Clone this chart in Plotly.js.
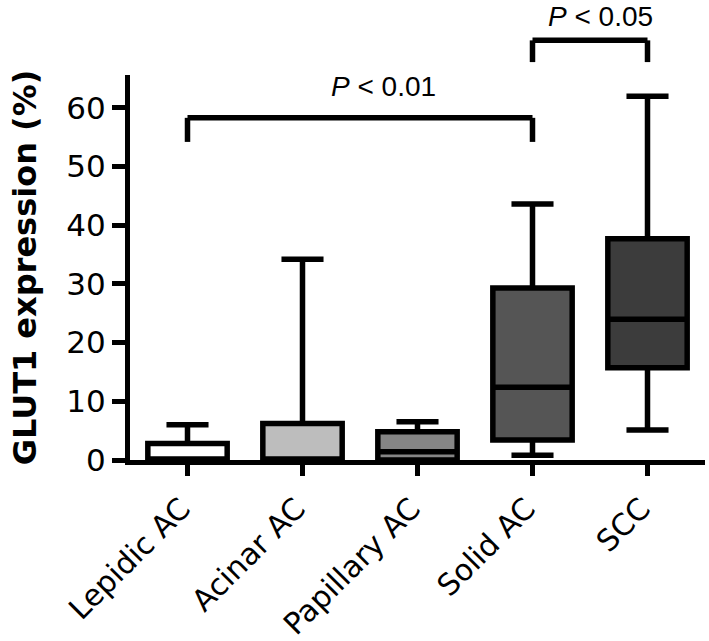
<!DOCTYPE html>
<html>
<head>
<meta charset="utf-8">
<script src="https://cdn.plot.ly/plotly-3.0.1.min.js"></script>
<style>html,body{margin:0;padding:0;background:#fff;}#chart{width:709px;height:641px;}</style>
</head>
<body>
<div id="chart"></div>
<script>
// ---- data ----
const categories = ['Lepidic AC', 'Acinar AC', 'Papillary AC', 'Solid AC', 'SCC'];
const lowerFence = [0, 0, 0, 0.8, 5.1];
const q1 = [0, 0, 0, 3.4, 15.7];
const median = [0, 0, 1.4, 12.4, 24.0];
const q3 = [2.8, 6.2, 4.8, 29.3, 37.7];
const upperFence = [6.0, 34.2, 6.5, 43.6, 62.0];
const fillColors = ['#ffffff', '#bdbdbd', '#858585', '#555555', '#3c3c3c'];

// significance brackets: [from index, to index, bar value, leg end value]
const bracketFrom = [0, 3];
const bracketTo = [3, 4];
const bracketTop = [58.3, 71.5];
const bracketLeg = [54.2, 67.8];
const bracketLabels = ['<i>P</i> < 0.01', '<i>P</i> < 0.05'];

const yRange = [0, 65.6];
const toPaper = v => (v - yRange[0]) / (yRange[1] - yRange[0]);

const traces = categories.map((c, i) => ({
  type: 'box',
  x: [c],
  q1: [q1[i]],
  median: [median[i]],
  q3: [q3[i]],
  lowerfence: [lowerFence[i]],
  upperfence: [upperFence[i]],
  fillcolor: fillColors[i],
  line: {color: '#000000', width: 5.5},
  width: 0.69,
  whiskerwidth: 0.53,
  boxpoints: false,
  hoverinfo: 'skip',
  showlegend: false
}));

const shapes = [];
const annotations = [];
bracketFrom.forEach((f, i) => {
  const t = bracketTo[i];
  const line = {color: '#000000', width: 5.5};
  shapes.push({type: 'line', xref: 'x', yref: 'paper', x0: categories[f], x1: categories[f], y0: toPaper(bracketLeg[i]), y1: toPaper(bracketTop[i]), line: line});
  shapes.push({type: 'line', xref: 'x', yref: 'paper', x0: categories[t], x1: categories[t], y0: toPaper(bracketLeg[i]), y1: toPaper(bracketTop[i]), line: line});
  shapes.push({type: 'line', xref: 'x', yref: 'paper', x0: categories[f], x1: categories[t], y0: toPaper(bracketTop[i]), y1: toPaper(bracketTop[i]), line: line});
});
const pFont = {family: 'Liberation Sans, Arial, sans-serif', size: 28, color: '#000'};
annotations.push({text: bracketLabels[0], xref: 'x', yref: 'paper', x: 1.70, y: 0.969, showarrow: false, xanchor: 'center', yanchor: 'middle', font: pFont});
annotations.push({text: bracketLabels[1], xref: 'x', yref: 'paper', x: 3.59, y: 1.152, showarrow: false, xanchor: 'center', yanchor: 'middle', font: pFont});

const layout = {
  width: 709,
  height: 641,
  margin: {l: 130, r: 4, t: 75, b: 181},
  paper_bgcolor: '#ffffff',
  plot_bgcolor: '#ffffff',
  showlegend: false,
  boxmode: 'overlay',
  font: {family: 'DejaVu Sans, Verdana, sans-serif', color: '#000'},
  xaxis: {
    type: 'category',
    categoryorder: 'array',
    categoryarray: categories,
    range: [-0.5, 4.5],
    showline: true, linecolor: '#000', linewidth: 5,
    ticks: 'outside', ticklen: 11, tickwidth: 5, tickcolor: '#000',
    tickangle: -45,
    ticklabelshift: -6,
    ticklabelstandoff: 3,
    tickfont: {size: 30, family: 'DejaVu Sans, Verdana, sans-serif', color: '#000'},
    showgrid: false, zeroline: false, fixedrange: true
  },
  yaxis: {
    range: yRange,
    dtick: 10, tick0: 0,
    showline: true, linecolor: '#000', linewidth: 5,
    ticks: 'outside', ticklen: 13, tickwidth: 5, tickcolor: '#000',
    tickfont: {size: 31, family: 'DejaVu Sans, Verdana, sans-serif', color: '#000'},
    showgrid: false, zeroline: false, fixedrange: true,
    title: {text: '<b>GLUT1 expression (%)</b>', standoff: 22, font: {size: 32, family: 'DejaVu Sans, Verdana, sans-serif', color: '#000'}}
  },
  shapes: shapes,
  annotations: annotations
};

Plotly.newPlot('chart', traces, layout, {staticPlot: true, displayModeBar: false});
</script>
</body>
</html>
